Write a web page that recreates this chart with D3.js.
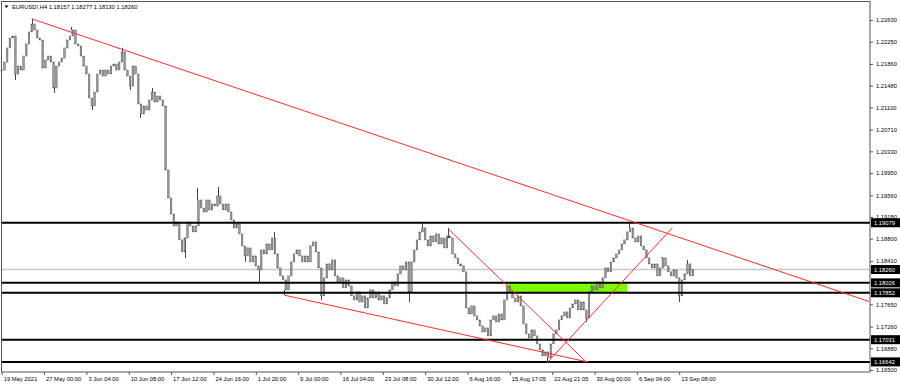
<!DOCTYPE html>
<html>
<head>
<meta charset="utf-8">
<script src="https://cdn.jsdelivr.net/npm/d3@7"></script>
<style>
  body { margin: 0; background: #fff; }
  svg { display: block; font-family: "Liberation Sans", Arial, sans-serif; }
  .axis path { display: none; }
  .axis line { stroke: #555; }
  .axis text { fill: #000; font-size: 5.8px; }
</style>
</head>
<body>
<svg width="900" height="386"></svg>
<script>
// EURUSD H4, one close per two H4 bars
var closes = [
  1.21754, 1.21894, 1.22140, 1.22315, 1.22350, 1.21684, 1.21824, 1.21754, 1.21999, 1.22210,
  1.22420, 1.22560, 1.22455, 1.22315, 1.22280, 1.21789, 1.21929, 1.21999, 1.21894, 1.21439,
  1.21824, 1.21894, 1.21964, 1.22140, 1.22280, 1.22350, 1.22455, 1.22210, 1.22175, 1.21999,
  1.21824, 1.21684, 1.21264, 1.21124, 1.21369, 1.21684, 1.21754, 1.21649, 1.21754, 1.21684,
  1.21824, 1.21859, 1.21754, 1.21894, 1.22069, 1.21754, 1.21649, 1.21474, 1.21824, 1.21684,
  1.21159, 1.20984, 1.21124, 1.21054, 1.21229, 1.21369, 1.21194, 1.21299, 1.21229, 1.21124,
  1.20003, 1.19513, 1.19233, 1.19023, 1.19093, 1.18778, 1.18568, 1.18813, 1.19093, 1.19023,
  1.18918, 1.19023, 1.19478, 1.19338, 1.19268, 1.19478, 1.19303, 1.19408, 1.19373, 1.19548,
  1.19408, 1.19303, 1.19408, 1.19268, 1.19128, 1.18988, 1.19058, 1.18883, 1.18673, 1.18498,
  1.18638, 1.18393, 1.18498, 1.18323, 1.18253, 1.18603, 1.18533, 1.18708, 1.18603, 1.18813,
  1.18533, 1.18288, 1.18148, 1.18078, 1.17903, 1.18148, 1.18393, 1.18533, 1.18603, 1.18498,
  1.18393, 1.18498, 1.18393, 1.18673, 1.18743, 1.18568, 1.18288, 1.17798, 1.18113, 1.18358,
  1.18253, 1.18428, 1.18148, 1.18043, 1.18113, 1.17938, 1.18078, 1.17973, 1.17798, 1.17727,
  1.17868, 1.17692, 1.17798, 1.17587, 1.17763, 1.17903, 1.17763, 1.17868, 1.17727, 1.17798,
  1.17657, 1.17763, 1.17903, 1.18043, 1.17973, 1.18183, 1.18323, 1.18253, 1.18393, 1.17868,
  1.18393, 1.18603, 1.18778, 1.18918, 1.18988, 1.18778, 1.18673, 1.18848, 1.18743, 1.18883,
  1.18708, 1.18813, 1.18638, 1.18848, 1.18813, 1.18533, 1.18463, 1.18358, 1.18323, 1.18218,
  1.17587, 1.17482, 1.17622, 1.17447, 1.17377, 1.17272, 1.17167, 1.17237, 1.17097, 1.17377,
  1.17447, 1.17342, 1.17482, 1.17377, 1.17727, 1.17973, 1.17868, 1.17763, 1.17692, 1.17798,
  1.17622, 1.17307, 1.17132, 1.17062, 1.17202, 1.17097, 1.16957, 1.16852, 1.16747, 1.16817,
  1.16712, 1.16957, 1.17132, 1.17202, 1.17377, 1.17447, 1.17517, 1.17412, 1.17587, 1.17657,
  1.17727, 1.17552, 1.17692, 1.17552, 1.17412, 1.17868, 1.17973, 1.17903, 1.18043, 1.17938,
  1.18113, 1.18288, 1.18218, 1.18393, 1.18463, 1.18533, 1.18603, 1.18708, 1.18778, 1.18918,
  1.18988, 1.18813, 1.18743, 1.18848, 1.18673, 1.18603, 1.18463, 1.18358, 1.18288, 1.18358,
  1.18148, 1.18288, 1.18463, 1.18323, 1.18218, 1.18148, 1.18253, 1.18113, 1.17798, 1.18078,
  1.18183, 1.18358, 1.18148, 1.18260
];

// visible wick extremes: [H4 bar, price]
var wicks = [
  [10, 1.21579], [22, 1.2265], [38, 1.21352], [51, 1.22508], [66, 1.21054], [88, 1.22140],
  [94, 1.21404], [101, 1.20914], [110, 1.21439], [134, 1.18463], [143, 1.19688], [158, 1.19706],
  [178, 1.18393], [188, 1.18043], [199, 1.18918], [207, 1.17815], [234, 1.17727], [298, 1.17692],
  [308, 1.19075], [327, 1.18988], [399, 1.16624], [428, 1.17342], [459, 1.19075], [483, 1.18480],
  [496, 1.17692], [502, 1.18428]
];

var priceTicks = [1.22630, 1.22250, 1.21860, 1.21480, 1.21100, 1.20710, 1.20330, 1.19950,
  1.19560, 1.19180, 1.18800, 1.18410, 1.17650, 1.17260, 1.16880, 1.16500];

var timeTicks = [0, 31, 62, 93, 124, 155, 186, 217, 248, 279, 310, 341, 372, 403, 434, 465, 496];
var timeLabels = ['19 May 2021', '27 May 00:00', '3 Jun 04:00', '10 Jun 08:00', '17 Jun 12:00',
  '24 Jun 16:00', '1 Jul 20:00', '9 Jul 00:00', '16 Jul 04:00', '23 Jul 08:00', '30 Jul 12:00',
  '6 Aug 16:00', '15 Aug 17:05', '22 Aug 21:05', '30 Aug 00:00', '6 Sep 04:00', '13 Sep 08:00'];

// horizontal levels (black) and current bid (grey)
var levels = [1.19079, 1.18026, 1.17852, 1.17031, 1.16642];
var bid = 1.18260;

// trend lines: [bar, price] -> [bar, price]
var trendLines = [
  [[22, 1.2265], [635, 1.1770]],
  [[207, 1.1781], [429, 1.1664]],
  [[327, 1.1897], [428, 1.1664]],
  [[399, 1.1662], [491, 1.1899]]
];

// green zone
var zoneBars = [370, 458];
var zonePrices = [1.17852, 1.18026];

var svg = d3.select('svg'),
    left = 1.7,
    right = 870,
    bottom = 372;

// x in H4 bars, y in price
var x = d3.scaleLinear().domain([0, 635]).range([left, 869.1]),
    y = d3.scaleLinear().domain([1.1650, 1.2263]).range([370, 20]);

svg.append('rect').attr('width', 900).attr('height', 386).attr('fill', '#fff');

var plot = svg.append('g');

// zone sits behind the bars
plot.append('rect')
    .attr('x', x(zoneBars[0]))
    .attr('y', y(zonePrices[1]))
    .attr('width', x(zoneBars[1]) - x(zoneBars[0]))
    .attr('height', y(zonePrices[0]) - y(zonePrices[1]))
    .attr('fill', '#7cfc00');

// bid line
plot.append('line')
    .attr('x1', left).attr('x2', right)
    .attr('y1', y(bid)).attr('y2', y(bid))
    .attr('stroke', '#c5c8ce').attr('stroke-width', 1.5);

// wicks go to the closest bar's close
plot.selectAll('.wick')
    .data(wicks)
  .enter().append('line')
    .attr('class', 'wick')
    .attr('x1', function(d) { return Math.round(x(d[0])) + 0.5; })
    .attr('x2', function(d) { return Math.round(x(d[0])) + 0.5; })
    .attr('y1', function(d) { return y(d[1]); })
    .attr('y2', function(d) { return y(closes[Math.min(closes.length - 1, Math.round(d[0] / 2))]); })
    .attr('stroke', '#444').attr('stroke-width', 1);

// candles: body from previous close to close
plot.selectAll('.bar')
    .data(closes)
  .enter().append('rect')
    .attr('class', 'bar')
    .attr('x', function(d, i) { return x(i * 2) - 0.8; })
    .attr('width', 1.6)
    .attr('y', function(d, i) {
      var o = i ? closes[i - 1] : d;
      return y(Math.max(o, d));
    })
    .attr('height', function(d, i) {
      var o = i ? closes[i - 1] : d;
      return Math.max(1, Math.abs(y(o) - y(d)));
    })
    .attr('fill', '#9c9c9c')
    .attr('stroke', '#444')
    .attr('stroke-width', 0.4);

plot.selectAll('.level')
    .data(levels)
  .enter().append('line')
    .attr('class', 'level')
    .attr('x1', left).attr('x2', right)
    .attr('y1', function(d) { return y(d); })
    .attr('y2', function(d) { return y(d); })
    .attr('stroke', '#000').attr('stroke-width', 2);

plot.selectAll('.trend')
    .data(trendLines)
  .enter().append('line')
    .attr('class', 'trend')
    .attr('x1', function(d) { return x(d[0][0]); })
    .attr('y1', function(d) { return y(d[0][1]); })
    .attr('x2', function(d) { return x(d[1][0]); })
    .attr('y2', function(d) { return y(d[1][1]); })
    .attr('stroke', '#ff2a2a').attr('stroke-width', 1);

// frame
svg.append('rect')
    .attr('x', 1.5).attr('y', 1.5)
    .attr('width', right - 1.5).attr('height', bottom - 1.5)
    .attr('fill', 'none').attr('stroke', '#555');

// price axis
svg.append('g')
    .attr('class', 'axis')
    .attr('transform', 'translate(' + right + ',0)')
    .call(d3.axisRight(y).tickValues(priceTicks).tickSize(3).tickPadding(3)
      .tickFormat(d3.format('.5f')));

// highlighted price labels
var tags = levels.concat([bid]);
var tag = svg.selectAll('.tag')
    .data(tags)
  .enter().append('g')
    .attr('class', 'tag')
    .attr('transform', function(d) { return 'translate(' + (right + 1) + ',' + y(d) + ')'; });
tag.append('rect')
    .attr('x', 0).attr('y', -4.5)
    .attr('width', 29).attr('height', 9)
    .attr('fill', '#000');
tag.append('text')
    .attr('x', 3).attr('dy', '0.35em')
    .attr('fill', '#fff')
    .style('font-size', '5.8px')
    .text(d3.format('.5f'));

// time axis
svg.append('g')
    .attr('class', 'axis axis--x')
    .attr('transform', 'translate(0,' + bottom + ')')
    .call(d3.axisBottom(x).tickValues(timeTicks).tickSize(3).tickPadding(2)
      .tickFormat(function(d, i) { return timeLabels[i]; }))
  .selectAll('text')
    .attr('text-anchor', 'start')
    .attr('dx', 1.5);

// title
svg.append('path')
    .attr('d', 'M4.5,5.5 L8.5,5.5 L6.5,8 Z')
    .attr('fill', '#000');
svg.append('text')
    .attr('x', 12).attr('y', 9)
    .style('font-size', '5.8px')
    .text('EURUSD!,H4  1.18157 1.18277 1.18130 1.18260');
</script>
</body>
</html>
